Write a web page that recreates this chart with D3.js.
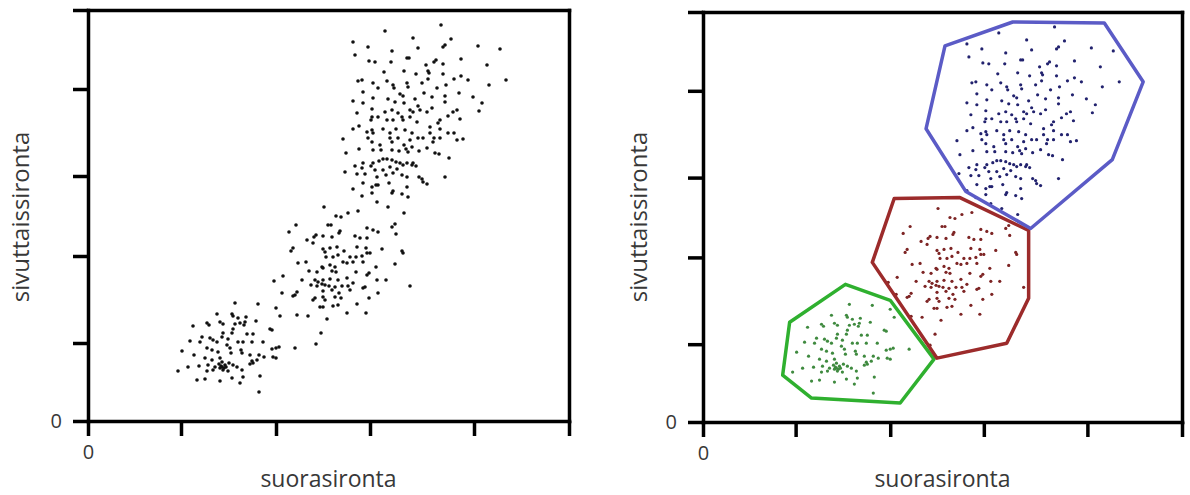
<!DOCTYPE html>
<html><head><meta charset="utf-8">
<script src="https://cdn.jsdelivr.net/npm/d3@7/dist/d3.min.js"></script>
<style>html,body{margin:0;padding:0;background:#fff;}svg{display:block;}</style>
</head><body>
<svg id="chart" width="1190" height="495"></svg>
<script>
// Values in arbitrary scatter channel units (suorasironta = x, sivuttaissironta = y)
const green = [[147,118],[170,117],[188,113],[129,107],[144,107],[145,105],[150,103],[158,104],[157,99],[156,96],[192,105],[105,95],[119,98],[121,96],[132,99],[135,97],[168,100],[147,97],[152,98],[182,92],[145,92],[135,88],[144,88],[159,87],[165,87],[114,84],[122,83],[125,81],[134,84],[140,82],[150,79],[155,79],[164,79],[175,79],[102,80],[112,79],[129,79],[139,76],[119,73],[124,71],[130,69],[142,73],[143,68],[153,71],[154,68],[162,66],[171,66],[184,72],[191,74],[94,70],[106,66],[117,63],[124,61],[132,63],[134,59],[137,56],[134,54],[132,53],[135,51],[141,58],[145,56],[164,60],[169,61],[176,64],[185,64],[188,63],[100,54],[111,55],[120,56],[127,54],[149,54],[162,57],[165,58],[90,50],[119,50],[125,51],[140,50],[154,51],[172,45],[109,41],[117,42],[132,40],[144,43],[155,44],[152,38],[171,29],[188,73],[184,91],[133,55],[136,53],[131,57],[138,54],[207,73]];
const red = [[194,128],[186,140],[236,214],[270,210],[260,208],[248,205],[253,204],[208,196],[240,196],[243,196],[279,193],[285,191],[290,189],[304,194],[307,197],[201,189],[252,190],[251,188],[228,186],[226,184],[235,185],[244,184],[267,185],[272,183],[279,183],[308,187],[219,181],[225,178],[235,172],[237,169],[242,173],[249,174],[256,170],[269,174],[278,173],[279,168],[282,168],[294,172],[314,170],[315,168],[205,173],[203,170],[262,164],[265,159],[268,164],[274,165],[238,164],[245,164],[250,166],[210,158],[218,159],[234,154],[242,156],[247,154],[255,159],[259,158],[275,159],[288,154],[307,157],[221,150],[229,149],[235,153],[244,150],[248,149],[268,149],[281,148],[279,146],[195,145],[214,141],[227,141],[230,139],[235,141],[242,142],[250,141],[259,143],[289,141],[298,141],[223,136],[229,135],[234,137],[237,136],[241,135],[247,134],[254,135],[260,135],[265,138],[277,134],[322,135],[209,129],[207,126],[205,125],[235,130],[244,131],[251,128],[262,131],[275,133],[290,128],[227,123],[225,121],[235,124],[237,121],[247,124],[253,123],[281,123],[232,114],[235,114],[245,115],[250,116],[269,117],[259,108],[278,108],[209,106],[220,105],[239,102],[233,88],[228,77]];
const blue = [[297,390],[325,383],[363,382],[265,379],[280,374],[304,370],[330,373],[355,374],[357,376],[390,375],[412,372],[267,366],[319,363],[321,363],[348,361],[346,359],[373,362],[281,360],[287,359],[303,359],[338,356],[355,357],[399,356],[296,349],[316,350],[328,347],[340,350],[341,348],[355,347],[373,345],[366,342],[380,341],[418,341],[270,340],[274,341],[285,338],[299,340],[305,336],[306,333],[319,338],[320,334],[334,338],[340,342],[349,333],[358,336],[371,328],[401,336],[275,329],[290,333],[312,327],[315,325],[327,322],[336,328],[344,324],[357,325],[385,324],[394,318],[265,320],[275,318],[285,323],[300,322],[307,319],[316,318],[330,315],[332,311],[344,313],[357,319],[369,311],[365,309],[391,310],[269,308],[284,312],[297,309],[304,311],[310,308],[314,304],[322,311],[325,309],[339,309],[352,301],[350,298],[360,305],[372,302],[284,304],[283,301],[290,304],[299,301],[305,301],[315,301],[322,304],[329,299],[342,294],[352,292],[255,282],[265,292],[271,295],[279,289],[284,291],[285,288],[295,292],[302,288],[308,292],[317,291],[324,288],[330,283],[335,283],[342,288],[346,283],[345,279],[360,288],[366,288],[369,281],[375,282],[280,283],[284,279],[292,276],[302,283],[304,279],[310,283],[316,276],[322,281],[324,274],[352,283],[258,268],[271,272],[285,271],[293,271],[304,271],[311,270],[318,272],[320,269],[331,270],[339,273],[347,268],[351,267],[361,263],[275,258],[285,258],[283,255],[291,260],[295,262],[299,262],[304,261],[308,259],[312,258],[319,258],[324,256],[328,255],[267,255],[257,249],[274,253],[287,251],[295,251],[302,254],[309,252],[315,256],[325,258],[357,244],[269,247],[277,247],[289,244],[288,236],[298,246],[305,248],[314,246],[319,244],[331,244],[334,242],[335,239],[339,237],[275,238],[284,234],[290,236],[301,238],[304,228],[305,230],[314,227],[319,234],[320,224],[265,232],[274,225],[284,228],[289,219],[353,396],[300,214],[316,208]];
// hand-drawn cluster outlines (same units)
const greenHull = [[143,138],[188,122],[232,63],[198,19],[109,24],[80,47],[87,100]];
const redHull = [[192,224],[258,225],[327,192],[327,124],[305,79],[235,64],[170,160]];
const blueHull = [[243,377],[311,401],[403,400],[442,341],[411,263],[329,194],[264,231],[224,294]];
const xTickValues = [0, 93, 188, 282, 386, 481];
const yTickValues = [0, 78, 165, 245, 332, 411];
const xMax = 481, yMax = 411;
const xTitle = "suorasironta";
const yTitle = "sivuttaissironta";

const svg = d3.select("#chart");
const font = "'Open Sans', 'Noto Sans', sans-serif";
const textColor = "#383838";

const panels = [
  {left: 88, right: 569, bottom: 421, top: 10, colored: false, yTitleX: 29},
  {left: 703, right: 1182, bottom: 422, top: 12, colored: true, yTitleX: 647}
];

const clusters = [
  {pts: green, hull: greenHull, dot: "#3f8a3f", line: "#2fb02f"},
  {pts: red, hull: redHull, dot: "#7d2424", line: "#9c2b2b"},
  {pts: blue, hull: blueHull, dot: "#22226e", line: "#5b5bc6"}
];

panels.forEach(p => {
  const x = d3.scaleLinear().domain([0, xMax]).range([p.left, p.right]);
  const y = d3.scaleLinear().domain([0, yMax]).range([p.bottom, p.top]);
  const g = svg.append("g");

  clusters.forEach(c => {
    g.append("g").selectAll("circle").data(c.pts).enter().append("circle")
      .attr("cx", d => x(d[0])).attr("cy", d => y(d[1]))
      .attr("r", p.colored ? 1.6 : 1.8)
      .attr("fill", p.colored ? c.dot : "#111");
  });

  if (p.colored) {
    const line = d3.line().x(d => x(d[0])).y(d => y(d[1])).curve(d3.curveLinearClosed);
    clusters.forEach(c => {
      g.append("path").attr("d", line(c.hull)).attr("fill", "none")
        .attr("stroke", c.line).attr("stroke-width", 3.5).attr("stroke-linejoin", "round");
    });
  }

  const fmt = d => d === 0 ? "0" : "";
  const top = g.append("g").attr("transform", `translate(0,${p.top})`)
    .call(d3.axisTop(x).tickValues([]).tickSizeOuter(0));
  const right = g.append("g").attr("transform", `translate(${p.right},0)`)
    .call(d3.axisRight(y).tickValues([]).tickSizeOuter(0));
  const xa = g.append("g").attr("transform", `translate(0,${p.bottom})`)
    .call(d3.axisBottom(x).tickValues(xTickValues).tickSize(15).tickSizeOuter(0).tickPadding(9).tickFormat(fmt));
  const ya = g.append("g").attr("transform", `translate(${p.left},0)`)
    .call(d3.axisLeft(y).tickValues(yTickValues).tickSize(15).tickSizeOuter(0).tickPadding(11).tickFormat(fmt));

  [top, right, xa, ya].forEach(a => {
    a.attr("font-size", 20).attr("font-family", font);
    a.selectAll(".domain").attr("stroke", "#000").attr("stroke-width", 3.5).attr("stroke-linecap", "square");
    a.selectAll(".tick line").attr("stroke", "#000").attr("stroke-width", 3.5);
    a.selectAll("text").attr("fill", textColor);
  });

  g.append("text").attr("x", (p.left + p.right) / 2).attr("y", 487)
    .attr("text-anchor", "middle").attr("fill", textColor)
    .attr("font-family", font).attr("font-size", 23).text(xTitle);
  g.append("text").attr("transform", `translate(${p.yTitleX},217) rotate(-90)`)
    .attr("text-anchor", "middle").attr("fill", textColor)
    .attr("font-family", font).attr("font-size", 24).text(yTitle);
});
</script>
</body></html>
